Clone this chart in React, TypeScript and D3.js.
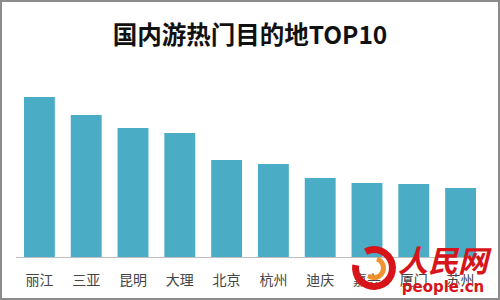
import React from "react";
import * as d3 from "d3";

const categories = ["丽江", "三亚", "昆明", "大理", "北京", "杭州", "迪庆", "嘉兴", "厦门", "苏州"];
const values = [160, 142, 129, 124, 97, 93, 79, 74, 73, 69];
const title = "国内游热门目的地TOP10";

const W = 500;
const H = 300;
const baseY = 257;

export default function App() {
  const x = d3.scaleBand<string>().domain(categories).range([16, 484]).paddingInner(0.34).paddingOuter(0.17);
  const y = d3.scaleLinear().domain([0, 160]).range([baseY, 97]);
  const font = "'Noto Sans CJK SC', 'Noto Sans', sans-serif";
  const arc = d3.arc();
  const outerRing = arc({ innerRadius: 15, outerRadius: 22, startAngle: -Math.PI * 0.15, endAngle: Math.PI * 1.55 }) || "";
  const innerRing = arc({ innerRadius: 7, outerRadius: 12, startAngle: Math.PI * 0.1, endAngle: Math.PI * 1.2 }) || "";
  return (
    <svg width={W} height={H} style={{ position: "absolute", left: 0, top: 0, background: "#fff" }}>
      <rect x={1} y={1} width={W - 2} height={H - 2} fill="#fff" stroke="#8c8c8c" strokeWidth={2} />
      <text x={250} y={44} textAnchor="middle" fontFamily={font} fontWeight={700} fontSize={24.5} fill="#111">
        {title}
      </text>
      {categories.map((c, i) => (
        <rect key={c} x={x(c)} y={y(values[i])} width={x.bandwidth()} height={baseY - y(values[i])} fill="#4bacc6" />
      ))}
      <line x1={16} x2={484} y1={baseY + 0.5} y2={baseY + 0.5} stroke="#bfbfbf" strokeWidth={1} />
      {categories.map((c) => (
        <text key={c} x={(x(c) || 0) + x.bandwidth() / 2} y={285} textAnchor="middle" fontFamily={font} fontSize={14} fill="#454545">
          {c}
        </text>
      ))}
      <g transform="translate(374,268)">
        <path d={outerRing} fill="#d7141a" />
        <path d={innerRing} fill="#f08a1c" opacity={0.9} />
      </g>
      <text x={443} y={272} textAnchor="middle" fontFamily={font} fontWeight={700} fontSize={30} fill="#d7141a" fontStyle="italic">
        人民网
      </text>
      <text x={443} y={292} textAnchor="middle" fontFamily="'DejaVu Sans', sans-serif" fontWeight={700} fontSize={15} fill="#d7141a">
        people.cn
      </text>
    </svg>
  );
}
